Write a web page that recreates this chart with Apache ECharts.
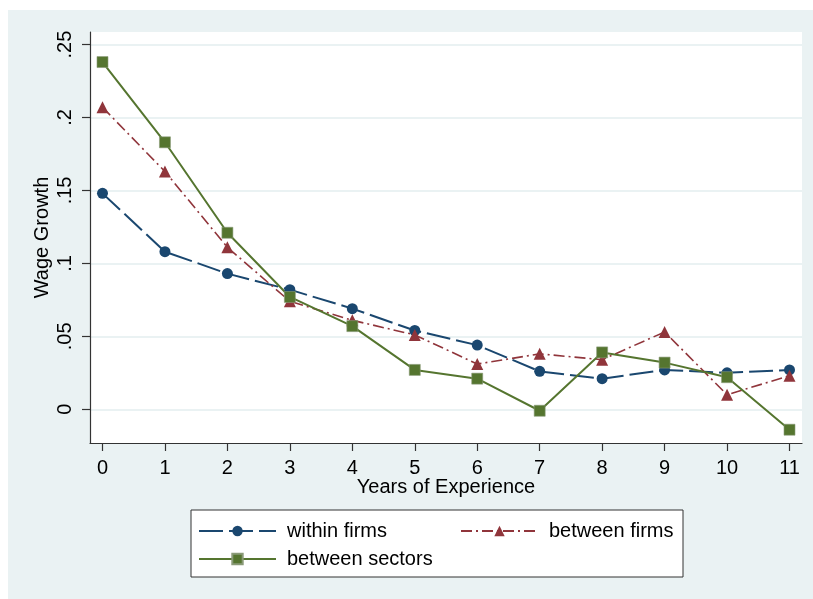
<!DOCTYPE html>
<html>
<head>
<meta charset="utf-8">
<script src="https://cdn.jsdelivr.net/npm/echarts@6/dist/echarts.min.js"></script>
<style>
html,body{margin:0;padding:0;background:#fff;}
#chart{width:813px;height:599px;}
</style>
</head>
<body>
<div id="chart"></div>
<script>
var years = [0, 1, 2, 3, 4, 5, 6, 7, 8, 9, 10, 11];
var withinFirms = [0.148, 0.108, 0.093, 0.082, 0.069, 0.054, 0.044, 0.026, 0.021, 0.027, 0.025, 0.027];
var betweenFirms = [0.207, 0.163, 0.111, 0.074, 0.061, 0.051, 0.031, 0.038, 0.034, 0.053, 0.010, 0.023];
var betweenSectors = [0.238, 0.183, 0.121, 0.077, 0.057, 0.027, 0.021, -0.001, 0.039, 0.032, 0.022, -0.014];
var yTicks = [0, 0.05, 0.1, 0.15, 0.2, 0.25];
var yTickLabels = ['0', '.05', '.1', '.15', '.2', '.25'];
var xTicks = years;

function pairs(vals) { return years.map(function (x, i) { return [x, vals[i]]; }); }

var FONT = "'Liberation Sans', Arial, sans-serif";
var FS = 20;
var chart = echarts.init(document.getElementById('chart'), null, {renderer: 'canvas'});
var navy = '#1a476f', maroon = '#90353b', green = '#55752f';

chart.setOption({
  backgroundColor: '#ffffff',
  animation: false,
  textStyle: {fontFamily: FONT},
  graphic: [
    {type: 'rect', z: -10, shape: {x: 8, y: 10, width: 805, height: 589}, style: {fill: '#eaf2f3'}},
    {type: 'rect', z: 1, shape: {x: 191, y: 510, width: 492, height: 67}, style: {fill: '#ffffff', stroke: '#333333', lineWidth: 1}}
  ],
  grid: {left: 90, top: 32, right: 11, bottom: 156, show: true, backgroundColor: '#ffffff', borderWidth: 0},
  xAxis: {
    type: 'value', min: -0.2, max: 11.2,
    name: 'Years of Experience', nameLocation: 'middle', nameGap: 34, nameMoveOverlap: false,
    nameTextStyle: {fontSize: FS, color: '#000', fontFamily: FONT},
    axisLine: {show: true, onZero: false, lineStyle: {color: '#333', width: 1.2}},
    axisTick: {show: true, length: 8, customValues: xTicks, lineStyle: {color: '#333', width: 1.2}},
    axisLabel: {customValues: xTicks, fontSize: FS, color: '#000', margin: 15, fontFamily: FONT},
    splitLine: {show: false}
  },
  yAxis: {
    type: 'value', min: -0.0231, max: 0.2586,
    name: 'Wage Growth', nameLocation: 'middle', nameGap: 38, nameRotate: 90, nameMoveOverlap: false,
    nameTextStyle: {fontSize: FS, color: '#000', fontFamily: FONT},
    axisLine: {show: true, onZero: false, lineStyle: {color: '#333', width: 1.2}},
    axisTick: {show: true, length: 8, customValues: yTicks, lineStyle: {color: '#333', width: 1.2}},
    axisLabel: {
      customValues: yTicks, rotate: 90, fontSize: FS, color: '#000', margin: 15, fontFamily: FONT,
      formatter: function (v) { for (var k = 0; k < yTicks.length; k++) { if (Math.abs(yTicks[k] - v) < 1e-9) return yTickLabels[k]; } return ''; }
    },
    splitLine: {show: true, lineStyle: {color: '#eaf2f3', width: 2}}
  },
  legend: [
    {data: ['within firms'], left: 198, top: 521, padding: 0, itemWidth: 77, itemHeight: 13,
     textStyle: {fontSize: FS, color: '#000', fontFamily: FONT, padding: [0, 0, 0, 6]}},
    {data: ['between firms'], left: 460, top: 521, padding: 0, itemWidth: 77, itemHeight: 13,
     textStyle: {fontSize: FS, color: '#000', fontFamily: FONT, padding: [0, 0, 0, 6]}},
    {data: ['between sectors'], left: 198, top: 549, padding: 0, itemWidth: 77, itemHeight: 13,
     textStyle: {fontSize: FS, color: '#000', fontFamily: FONT, padding: [0, 0, 0, 6]}}
  ],
  series: [
    {name: 'within firms', type: 'line', data: pairs(withinFirms), symbol: 'circle', symbolSize: 11,
     itemStyle: {color: navy}, lineStyle: {color: navy, width: 2, type: [24, 6]}, clip: false},
    {name: 'between firms', type: 'line', data: pairs(betweenFirms), symbol: 'triangle', symbolSize: 12,
     itemStyle: {color: maroon}, lineStyle: {color: maroon, width: 1.6, type: [11, 4, 2, 4]}, clip: false},
    {name: 'between sectors', type: 'line', data: pairs(betweenSectors), symbol: 'rect', symbolSize: 11,
     itemStyle: {color: green, borderColor: '#8a9a78', borderWidth: 0.6}, lineStyle: {color: green, width: 2}, clip: false}
  ]
});
</script>
</body>
</html>
